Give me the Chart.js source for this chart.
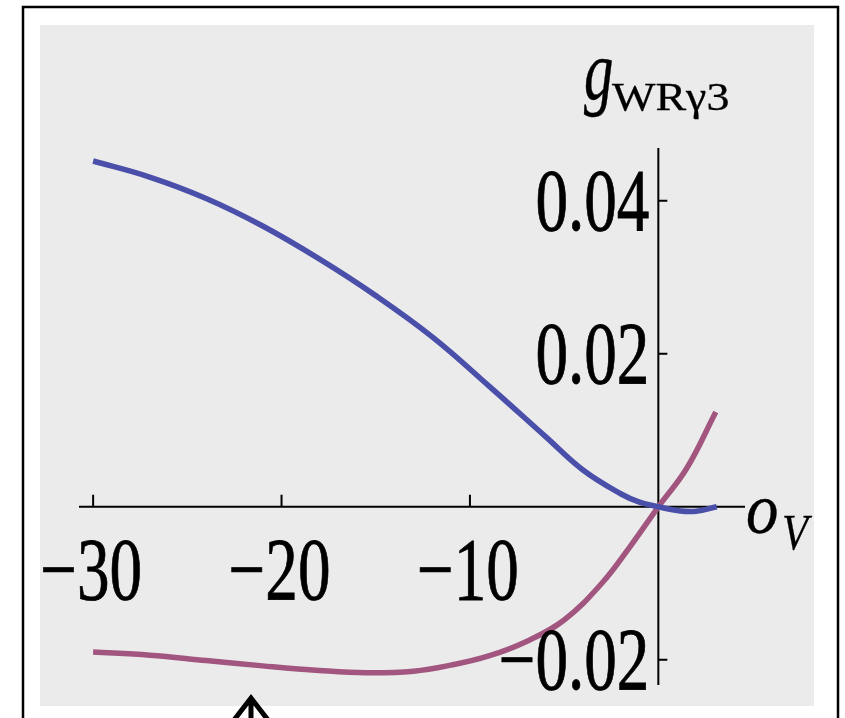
<!DOCTYPE html>
<html>
<head>
<meta charset="utf-8">
<script src="https://cdn.jsdelivr.net/npm/chart.js@4/dist/chart.umd.min.js"></script>
<style>
  html, body { margin: 0; padding: 0; background: #fff; }
  canvas { display: block; }
</style>
</head>
<body>
<canvas id="chart" width="845" height="718"></canvas>
<script>
// ── data ───────────────────────────────────────────────────────────
const blueX = [-30, -27, -24, -21, -18, -15, -12, -9, -6, -4, -2, -1, 0, 1, 2, 3.1];
const blueY = [0.0452, 0.0431, 0.0403, 0.0367, 0.0324, 0.0276, 0.0222, 0.0158, 0.0092, 0.0048, 0.0017, 0.0006, 0, -0.0005, -0.0006, 0.0000];

const magentaX = [-30, -27, -24, -21, -18, -15.5, -13, -11, -9, -7, -5, -3, -1.5, 0, 1.5, 3.05];
const magentaY = [-0.0190, -0.0194, -0.0201, -0.0208, -0.0214, -0.0217, -0.0215, -0.0207, -0.0195, -0.0176, -0.0148, -0.0100, -0.0052, 0, 0.0050, 0.0124];

const xTicks = [-30, -20, -10];
const xTickLabels = ['\u221230', '\u221220', '\u221210'];
const yTicks = [0.04, 0.02, -0.02];
const yTickLabels = ['0.04', '0.02', '\u22120.02'];

const xRange = [-30.75, 4.6];
const yRange = [-0.0233, 0.0469];

const BLUE = '#4a50a9';
const MAGENTA = '#a1557f';
const SERIF = "'Liberation Serif'";

const toPoints = (xs, ys) => xs.map((x, i) => ({ x, y: ys[i] }));

// draws text squeezed horizontally, like the condensed Times in the figure
function squeezed(ctx, text, x, y, size, sx, align, style, weight) {
    ctx.save();
    ctx.font = (style ? style + ' ' : '') + size + 'px ' + SERIF;
    ctx.textAlign = align;
    ctx.textBaseline = 'alphabetic';
    ctx.translate(x, y);
    ctx.scale(sx, 1);
    ctx.fillText(text, 0, 0);
    if (weight) {
        ctx.lineWidth = weight;
        ctx.strokeText(text, 0, 0);
    }
    ctx.restore();
}

// ── frame, gray panel, axes through the origin ─────────────────────
const framePlugin = {
    id: 'frame',
    beforeDraw(chart) {
        const ctx = chart.ctx;
        ctx.save();
        ctx.fillStyle = '#fff';
        ctx.fillRect(0, 0, chart.width, chart.height);
        ctx.strokeStyle = '#000';
        ctx.lineWidth = 2.5;
        ctx.strokeRect(23, 7, 815, 730);
        ctx.fillStyle = '#ebebeb';
        ctx.fillRect(40, 25, 774, 681);
        ctx.restore();
    },
    beforeDatasetsDraw(chart) {
        const ctx = chart.ctx;
        const { x, y } = chart.scales;
        const x0 = x.getPixelForValue(0), y0 = y.getPixelForValue(0);
        ctx.save();
        ctx.strokeStyle = '#000';
        ctx.lineWidth = 2;
        ctx.beginPath();
        ctx.moveTo(x.left, y0); ctx.lineTo(x.right, y0);
        ctx.moveTo(x0, y.top); ctx.lineTo(x0, y.bottom);
        xTicks.forEach(v => {
            const px = x.getPixelForValue(v);
            ctx.moveTo(px, y0); ctx.lineTo(px, y0 - 12);
        });
        yTicks.forEach(v => {
            const py = y.getPixelForValue(v);
            ctx.moveTo(x0, py); ctx.lineTo(x0 + 9, py);
        });
        ctx.stroke();
        ctx.restore();
    },
    afterDatasetsDraw(chart) {
        const ctx = chart.ctx;
        const { x, y } = chart.scales;
        const x0 = x.getPixelForValue(0), y0 = y.getPixelForValue(0);
        ctx.save();
        ctx.fillStyle = '#000';
        ctx.strokeStyle = '#000';
        xTicks.forEach((v, i) => {
            squeezed(ctx, xTickLabels[i], x.getPixelForValue(v) - 2, y0 + 92, 88, 0.74, 'center', null, 0.8);
        });
        yTicks.forEach((v, i) => {
            squeezed(ctx, yTickLabels[i], x0 - 9, y.getPixelForValue(v) + 29, 88, 0.74, 'right', null, 0.8);
        });
        // axis labels
        squeezed(ctx, 'g', 584, 99, 84, 0.7, 'left', 'italic', 0.5);
        squeezed(ctx, 'WR\u03b33', 612, 110, 40, 1.15, 'left', null, 0.3);
        squeezed(ctx, 'o', 746, 533, 72, 0.9, 'left', 'italic', 0.4);
        squeezed(ctx, 'V', 782, 549, 50, 0.85, 'left', 'italic', 0.3);
        // arrow under the panel
        ctx.lineWidth = 5;
        ctx.lineJoin = 'miter';
        ctx.beginPath();
        ctx.moveTo(234, 720); ctx.lineTo(251, 698); ctx.lineTo(268, 720);
        ctx.moveTo(251, 700); ctx.lineTo(251, 722);
        ctx.stroke();
        ctx.restore();
    }
};

new Chart(document.getElementById('chart'), {
    type: 'line',
    data: {
        datasets: [
            { data: toPoints(blueX, blueY), borderColor: BLUE, borderWidth: 5.5 },
            { data: toPoints(magentaX, magentaY), borderColor: MAGENTA, borderWidth: 5.5 }
        ]
    },
    options: {
        responsive: false,
        devicePixelRatio: 1,
        animation: false,
        layout: { padding: { left: 79, right: 100, top: 148, bottom: 33 } },
        elements: {
            point: { radius: 0 },
            line: { tension: 0.4, borderCapStyle: 'butt', fill: false }
        },
        scales: {
            x: { type: 'linear', min: xRange[0], max: xRange[1], display: false },
            y: { type: 'linear', min: yRange[0], max: yRange[1], display: false }
        },
        plugins: { legend: { display: false }, tooltip: { enabled: false } }
    },
    plugins: [framePlugin]
});
</script>
</body>
</html>
